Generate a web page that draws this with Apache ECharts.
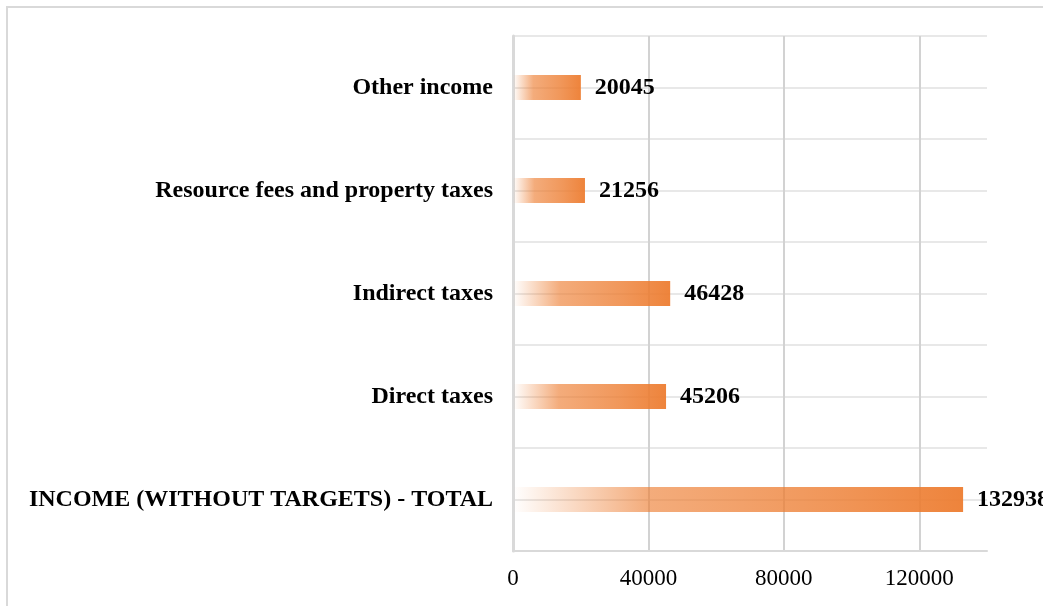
<!DOCTYPE html>
<html>
<head>
<meta charset="utf-8">
<script src="https://cdn.jsdelivr.net/npm/echarts@6/dist/echarts.min.js"></script>
<style>
  html, body { margin: 0; padding: 0; background: #fff; overflow: hidden; }
  #chart { width: 1043px; height: 606px; }
</style>
</head>
<body>
<div id="chart"></div>
<script>
// categories listed bottom -> top (category axis starts at the bottom)
const categories = [
  'INCOME (WITHOUT TARGETS) - TOTAL',
  'Direct taxes',
  'Indirect taxes',
  'Resource fees and property taxes',
  'Other income'
];
const incomeValues = [132938, 45206, 46428, 21256, 20045];
const xTicks = [0, 40000, 80000, 120000];

const serif = "'Liberation Serif', 'Times New Roman', serif";
const chart = echarts.init(document.getElementById('chart'));

chart.setOption({
  animation: false,
  backgroundColor: '#fff',
  graphic: [{
    type: 'rect',
    shape: { x: 7, y: 7, width: 1200, height: 800 },
    style: { fill: null, stroke: '#d9d9d9', lineWidth: 2 },
    silent: true
  }],
  grid: { left: 513, right: 56, top: 36, bottom: 55, containLabel: false, outerBoundsMode: 'none' },
  xAxis: {
    type: 'value',
    min: xTicks[0],
    max: 140000,
    interval: xTicks[1] - xTicks[0],
    axisLine: { show: true, lineStyle: { color: '#d9d9d9', width: 2 } },
    axisTick: { show: false },
    axisLabel: {
      showMaxLabel: false,
      margin: 16,
      color: '#000',
      fontFamily: serif,
      fontSize: 23,
      formatter: v => String(v)
    },
    splitLine: { show: true, showMaxLine: false, lineStyle: { color: '#d2d2d2', width: 2 } }
  },
  yAxis: [
    {
      type: 'category',
      data: categories,
      axisLine: { show: true, lineStyle: { color: '#d9d9d9', width: 3 } },
      axisTick: { show: false },
      splitLine: { show: false },
      axisLabel: {
        margin: 20,
        color: '#000',
        fontFamily: serif,
        fontWeight: 'bold',
        fontSize: 24
      }
    },
    {
      // only used to draw the horizontal gridlines (band edges and band centres)
      type: 'value',
      min: 0,
      max: categories.length * 2,
      interval: 1,
      position: 'left',
      axisLine: { show: false },
      axisTick: { show: false },
      axisLabel: { show: false },
      splitLine: { show: true, lineStyle: { color: '#e8e8e8', width: 2 } }
    }
  ],
  series: [{
    type: 'bar',
    yAxisIndex: 0,
    data: incomeValues,
    barWidth: 25,
    itemStyle: {
      color: new echarts.graphic.LinearGradient(0, 0, 1, 0, [
        { offset: 0, color: 'rgba(237,125,49,0)' },
        { offset: 0.3, color: 'rgba(237,125,49,0.64)' },
        { offset: 0.7, color: 'rgba(237,125,49,0.8)' },
        { offset: 1, color: 'rgba(237,125,49,0.95)' }
      ])
    },
    label: {
      show: true,
      position: 'right',
      distance: 14,
      color: '#000',
      fontFamily: serif,
      fontWeight: 'bold',
      fontSize: 24
    }
  }]
});
</script>
</body>
</html>
